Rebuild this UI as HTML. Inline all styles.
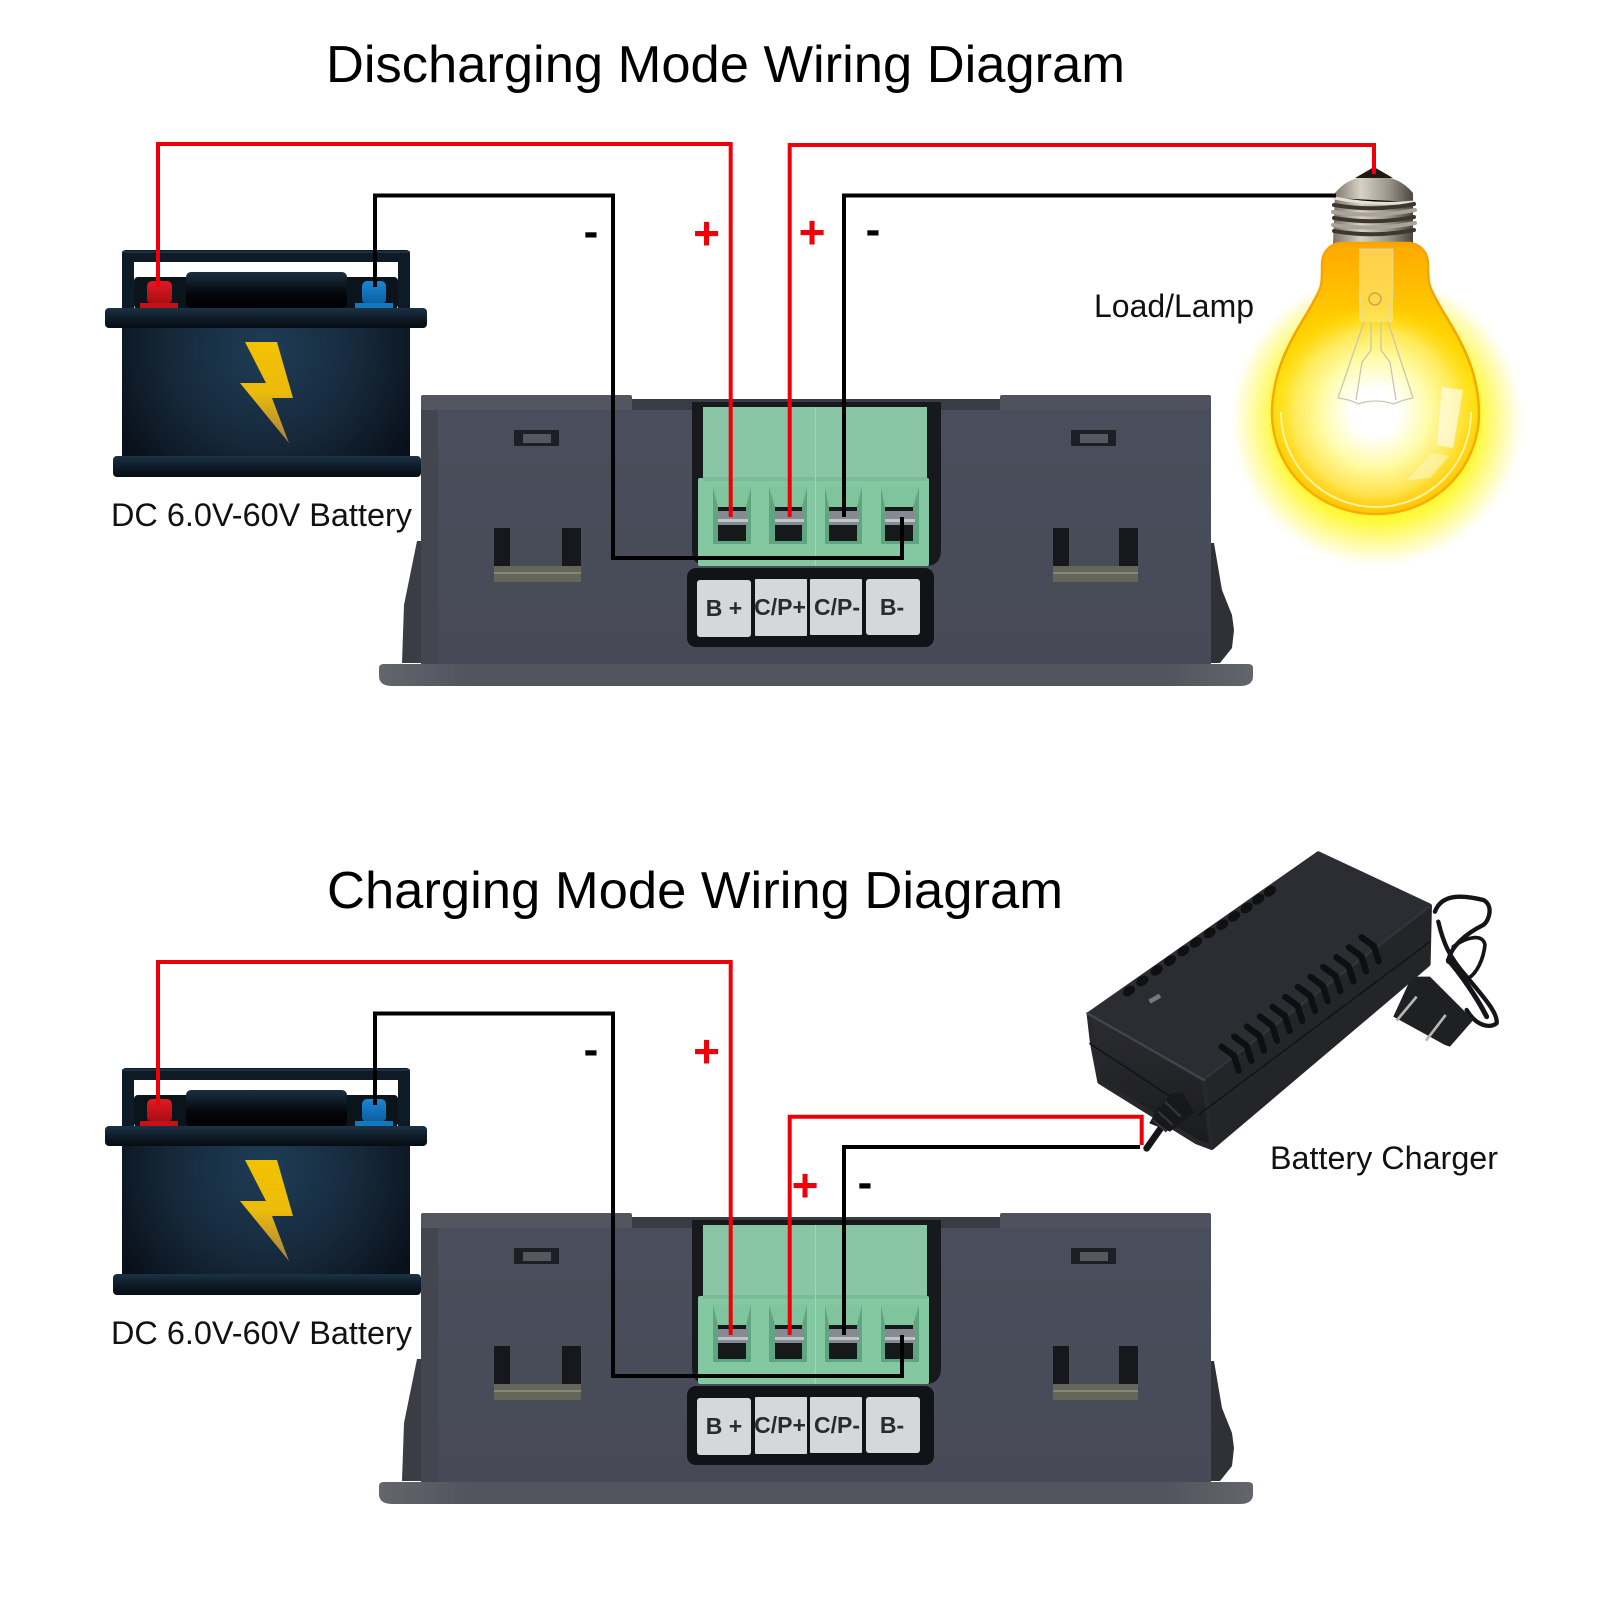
<!DOCTYPE html>
<html><head><meta charset="utf-8"><style>html,body{margin:0;padding:0;background:#fff}svg{display:block}text{font-family:"Liberation Sans",sans-serif}</style></head><body>
<svg width="1600" height="1600" viewBox="0 0 1600 1600" xmlns="http://www.w3.org/2000/svg">
<defs>
<radialGradient id="bb" gradientUnits="userSpaceOnUse" cx="266" cy="350" r="170"><stop offset="0" stop-color="#1e3d57"/><stop offset=".55" stop-color="#16293b"/><stop offset="1" stop-color="#091019"/></radialGradient>
<linearGradient id="lid" x1="0" x2="0" y1="0" y2="1"><stop offset="0" stop-color="#1b3244"/><stop offset=".5" stop-color="#0f1c28"/><stop offset="1" stop-color="#060c12"/></linearGradient>
<linearGradient id="blk" x1="0" x2="0" y1="0" y2="1"><stop offset="0" stop-color="#1a3040"/><stop offset=".6" stop-color="#04070b"/><stop offset="1" stop-color="#000"/></linearGradient>
<linearGradient id="bolt" x1="0" x2="0" y1="0" y2="1"><stop offset="0" stop-color="#f2c200"/><stop offset=".5" stop-color="#ecbb0c"/><stop offset="1" stop-color="#a58040"/></linearGradient>
<linearGradient id="red" x1="0" x2="0" y1="0" y2="1"><stop offset="0" stop-color="#e01a22"/><stop offset="1" stop-color="#a80c12"/></linearGradient>
<linearGradient id="blue" x1="0" x2="0" y1="0" y2="1"><stop offset="0" stop-color="#1a86d2"/><stop offset="1" stop-color="#0d5ea0"/></linearGradient>
<radialGradient id="glow" gradientUnits="userSpaceOnUse" cx="1377" cy="420" r="150"><stop offset="0" stop-color="#fff838"/><stop offset=".68" stop-color="#fff93c"/><stop offset=".8" stop-color="#fffb90"/><stop offset=".92" stop-color="#fffde0"/><stop offset="1" stop-color="#fff" stop-opacity="0"/></radialGradient>
<linearGradient id="glassB" gradientUnits="userSpaceOnUse" x1="0" x2="0" y1="243" y2="514"><stop offset="0" stop-color="#ffa800"/><stop offset=".3" stop-color="#ffcf00"/><stop offset=".55" stop-color="#ffe010"/><stop offset="1" stop-color="#ffc000"/></linearGradient>
<radialGradient id="glassW" gradientUnits="userSpaceOnUse" cx="1375" cy="412" r="108"><stop offset="0" stop-color="#fff"/><stop offset=".22" stop-color="#fff"/><stop offset=".5" stop-color="#fffca8"/><stop offset=".75" stop-color="#fff27a" stop-opacity=".7"/><stop offset="1" stop-color="#ffe000" stop-opacity="0"/></radialGradient>
<linearGradient id="screw" x1="0" x2="1" y1="0" y2="0"><stop offset="0" stop-color="#7a7268"/><stop offset=".35" stop-color="#d8d2c6"/><stop offset=".7" stop-color="#9a9388"/><stop offset="1" stop-color="#4a453e"/></linearGradient>
<linearGradient id="body" x1="0" x2="0" y1="0" y2="1"><stop offset="0" stop-color="#4a4e5c"/><stop offset="1" stop-color="#474a56"/></linearGradient>
<linearGradient id="fl" x1="0" x2="1" y1="0" y2="0"><stop offset="0" stop-color="#63666d"/><stop offset=".1" stop-color="#52555d"/><stop offset=".9" stop-color="#52555d"/><stop offset="1" stop-color="#62656b"/></linearGradient>
<linearGradient id="chF" x1="0" x2="0" y1="0" y2="1"><stop offset="0" stop-color="#2c2d32"/><stop offset="1" stop-color="#1a1b1e"/></linearGradient>
<g id="bat">
<rect x="134" y="277" width="264" height="32" rx="4" fill="#0b131b"/>
<path d="M122 310V254q0-4 4-4H406q4 0 4 4V310H398V262H134V310Z" fill="#0e1a26"/>
<path d="M122 252H410" stroke="#1f3a4e" stroke-width="1.5"/>
<rect x="186" y="272" width="161" height="36" rx="5" fill="url(#blk)"/>
<rect x="147" y="281" width="25" height="23" rx="5" fill="url(#red)"/><rect x="140" y="303" width="38" height="5" fill="#c4121a"/>
<rect x="362" y="281" width="24" height="23" rx="5" fill="url(#blue)"/><rect x="355" y="303" width="38" height="5" fill="#1478bf"/>
<rect x="122" y="326" width="288" height="132" fill="url(#bb)"/>
<rect x="105" y="308" width="322" height="20" rx="4" fill="url(#lid)"/>
<rect x="113" y="456" width="308" height="21" rx="4" fill="url(#lid)"/>
<path d="M245 342H277L293 398H272L289 443L240 383H266Z" fill="url(#bolt)"/>
</g>
<g id="dev">
<path d="M402 663L404 605L417 541H425V663Z" fill="#3b3d45"/>
<path d="M1207 663V543H1214L1222 590L1232 615L1234 630L1232 648L1220 663Z" fill="#2f3137"/>
<rect x="421" y="400" width="790" height="264" fill="url(#body)"/>
<rect x="421" y="395" width="211" height="15" rx="2" fill="#53565f"/>
<rect x="1000" y="395" width="211" height="15" rx="2" fill="#4f525c"/>
<rect x="632" y="399" width="368" height="11" fill="#3a3c45"/>
<rect x="421" y="410" width="17" height="254" fill="#43464f"/>
<rect x="514" y="430" width="45" height="16" rx="1" fill="#1e1f24"/><rect x="523" y="434" width="28" height="9" fill="#55585f"/>
<rect x="1071" y="430" width="45" height="16" rx="1" fill="#1e1f24"/><rect x="1080" y="434" width="28" height="9" fill="#55585f"/>
<rect x="494" y="528" width="16" height="40" fill="#17181c"/><rect x="562" y="528" width="19" height="40" fill="#17181c"/><rect x="494" y="566" width="87" height="16" fill="#65665a"/><rect x="494" y="572" width="87" height="2" fill="#85867a"/>
<rect x="1053" y="528" width="16" height="40" fill="#17181c"/><rect x="1119" y="528" width="19" height="40" fill="#17181c"/><rect x="1053" y="566" width="85" height="16" fill="#65665a"/><rect x="1053" y="572" width="85" height="2" fill="#85867a"/>
<path d="M692 402H941V550Q941 566 925 566H708Q692 566 692 550Z" fill="#18191d"/>
<rect x="703" y="407" width="224" height="72" fill="#8ac6a5"/>
<rect x="698" y="478" width="231" height="88" rx="2" fill="#84c8a1"/>
<rect x="703" y="477" width="224" height="4" fill="#7dbb98"/>
<rect x="815" y="407" width="1" height="159" fill="#a3d3b8"/>
<g fill="#5fa680"><rect x="713" y="487" width="38" height="57"/><rect x="769" y="487" width="38" height="57"/><rect x="825" y="487" width="37" height="57"/><rect x="881" y="487" width="38" height="57"/></g>
<g fill="#80c49d"><path d="M713 487H751L746 507H718Z"/><path d="M769 487H807L802 507H775Z"/><path d="M825 487H862L857 507H829Z"/><path d="M881 487H919L913 507H885Z"/></g>
<g fill="#16191a"><rect x="718" y="507" width="28" height="34"/><rect x="775" y="507" width="27" height="34"/><rect x="829" y="507" width="28" height="34"/><rect x="885" y="507" width="28" height="34"/></g>
<g fill="#868b91"><rect x="718" y="511" width="30" height="14"/><rect x="775" y="511" width="29" height="14"/><rect x="829" y="511" width="30" height="14"/><rect x="885" y="511" width="30" height="14"/></g>
<g fill="#bfc4c8"><rect x="718" y="519" width="30" height="3"/><rect x="775" y="519" width="29" height="3"/><rect x="829" y="519" width="30" height="3"/><rect x="885" y="519" width="30" height="3"/></g>
<rect x="687" y="568" width="247" height="79" rx="9" fill="#121316"/>
<g fill="#d5d7da"><rect x="697" y="580" width="54" height="57" rx="3"/><rect x="755" y="579" width="52" height="57" rx="1"/><rect x="810" y="579" width="52" height="56" rx="1"/><rect x="866" y="579" width="54" height="56" rx="3"/></g>
<path d="M379 668Q379 664 384 664H1248Q1253 664 1253 668V676Q1253 686 1240 686H392Q379 686 379 676Z" fill="url(#fl)"/>
</g>
<g id="w1"><path d="M158 287V144H730.7V517" fill="none" stroke="#ee0008" stroke-width="4"/><path d="M375 287V195.5H613V558H902V517" fill="none" stroke="#000" stroke-width="4"/></g>
<path id="slot" d="M515 650L552 677L566 722" fill="none" stroke="#0e0f11" stroke-width="19" stroke-linecap="round" stroke-linejoin="round"/>
</defs>
<rect width="1600" height="1600" fill="#fff"/>

<text x="326" y="82" font-size="52" textLength="799" lengthAdjust="spacingAndGlyphs" fill="#000">Discharging Mode Wiring Diagram</text>
<text x="327" y="908" font-size="52" textLength="736" lengthAdjust="spacingAndGlyphs" fill="#000">Charging Mode Wiring Diagram</text>

<!-- Bulb -->
<circle cx="1377" cy="420" r="150" fill="url(#glow)"/>
<path d="M1335 193Q1345 181 1358 178H1390Q1403 181 1413 193V244H1333Z" fill="url(#screw)"/>
<path d="M1355 178L1374 167L1393 178Z" fill="#1f1815"/>
<g stroke-linecap="round">
<path d="M1334 198Q1375 206 1414 202" stroke="#e6e0d6" stroke-width="3"/>
<g stroke="#3c372f" stroke-width="4" fill="none"><path d="M1334 205Q1375 212 1414 204"/><path d="M1334 218Q1375 225 1414 217"/><path d="M1334 231Q1375 238 1414 230"/></g>
<g stroke="#aaa498" stroke-width="4" fill="none"><path d="M1333 212Q1375 218 1415 210"/><path d="M1333 225Q1375 231 1415 223"/></g>
</g>
<path d="M1340 243C1328 245 1322 253 1322 265C1322 280 1322 286 1318 293C1306 320 1273 355 1272 412C1272 470 1318 514 1376 514C1433 514 1479 470 1479 412C1478 355 1445 320 1433 293C1429 286 1428 280 1428 265C1428 253 1422 245 1410 243Z" fill="url(#glassB)" stroke="#f6a500" stroke-width="2.5"/>
<circle cx="1375" cy="412" r="108" fill="url(#glassW)"/>
<path d="M1281 412C1281 466 1325 507 1376 507C1428 507 1471 466 1471 412" fill="none" stroke="#fff2a0" stroke-width="2"/>
<path d="M1359 249H1393V292L1388 322L1413 398M1359 292L1364 322L1338 398M1338 398Q1352 400 1358 404Q1375 398 1394 404Q1402 400 1413 398M1371 322V350L1362 362L1356 400M1381 322V350L1390 362L1396 400" fill="none" stroke="#c9c6b2" stroke-width="1.3"/>
<path d="M1359 249H1393V322H1359Z" fill="#ffeb8a" fill-opacity=".55"/>
<circle cx="1375" cy="299" r="6" fill="none" stroke="#cfa648" stroke-width="1.5"/>
<path d="M1442 387L1463 390L1453 448L1437 445Z" fill="#fff" fill-opacity=".6"/>
<path d="M1432 453L1449 456L1430 478L1407 480Z" fill="#fff6c0" fill-opacity=".6"/>

<!-- Diagram 1 -->
<use href="#bat"/>
<use href="#dev"/>
<use href="#w1"/>
<path d="M789.7 517V145H1374V174" fill="none" stroke="#ee0008" stroke-width="4"/>
<path d="M844 517V195.5H1336" fill="none" stroke="#000" stroke-width="4"/>

<!-- Diagram 2 -->
<use href="#bat" y="818"/>
<use href="#dev" y="818"/>

<!-- Charger -->
<g transform="translate(1050 830) scale(.3333)">
<g fill="none" stroke="#141518" stroke-linecap="round" stroke-linejoin="round">
<path d="M1155 245C1175 190 1240 195 1300 210C1330 225 1320 270 1300 285C1250 310 1200 350 1195 395" stroke-width="13"/>
<path d="M1165 275C1180 340 1200 385 1250 440C1300 500 1345 550 1340 580C1320 595 1280 590 1250 540" stroke-width="13"/>
<path d="M1210 350C1250 320 1300 310 1305 345C1300 390 1280 430 1255 445" stroke-width="11"/>
<path d="M1195 390C1230 430 1280 500 1310 560" stroke-width="15"/>
<path d="M290 955L350 870" stroke-width="20"/>
</g>
<path d="M1030 560L1085 440L1140 440L1270 570L1200 650L1185 645Z" fill="#1f2023"/>
<path d="M1040 572L1100 500" stroke="#b8b8b2" stroke-width="8"/><path d="M1128 632L1187 555" stroke="#b8b8b2" stroke-width="8"/>
<path d="M118 553L805 72L1138 228L1134 402L1025 495L485 952L440 935L150 755L128 640Z" fill="#242528" stroke="#242528" stroke-width="16" stroke-linejoin="round"/>
<path d="M118 553L462 750L485 952L440 935L150 755L128 640Z" fill="url(#chF)" stroke="#27282c" stroke-width="14" stroke-linejoin="round"/>
<path d="M118 553L805 72L1138 228L465 742Z" fill="#2c2d33" stroke="#2c2d33" stroke-width="14" stroke-linejoin="round"/>
<path d="M118 640L430 845M445 855L1140 335" stroke="#101113" stroke-width="4" fill="none"/>
<path d="M112 550L462 750" stroke="#44454b" stroke-width="7" fill="none" stroke-linecap="round"/>
<path d="M470 742L1140 228" stroke="#37383e" stroke-width="4" fill="none"/>
<g fill="#0f1012">
<ellipse cx="237" cy="483" rx="20" ry="14" transform="rotate(-35 237 483)"/><ellipse cx="277" cy="453" rx="20" ry="14" transform="rotate(-35 277 453)"/><ellipse cx="320" cy="421" rx="20" ry="14" transform="rotate(-35 320 421)"/><ellipse cx="360" cy="392" rx="20" ry="14" transform="rotate(-35 360 392)"/><ellipse cx="400" cy="363" rx="20" ry="14" transform="rotate(-35 400 363)"/><ellipse cx="438" cy="337" rx="20" ry="14" transform="rotate(-35 438 337)"/><ellipse cx="479" cy="309" rx="20" ry="14" transform="rotate(-35 479 309)"/><ellipse cx="517" cy="284" rx="20" ry="14" transform="rotate(-35 517 284)"/><ellipse cx="552" cy="259" rx="20" ry="14" transform="rotate(-35 552 259)"/><ellipse cx="590" cy="234" rx="20" ry="14" transform="rotate(-35 590 234)"/><ellipse cx="625" cy="208" rx="20" ry="14" transform="rotate(-35 625 208)"/><ellipse cx="660" cy="184" rx="20" ry="14" transform="rotate(-35 660 184)"/>
</g>
<use href="#slot"/><use href="#slot" x="38" y="-30"/><use href="#slot" x="76" y="-60"/><use href="#slot" x="115" y="-90"/><use href="#slot" x="153" y="-119"/><use href="#slot" x="191" y="-149"/><use href="#slot" x="229" y="-179"/><use href="#slot" x="267" y="-209"/><use href="#slot" x="305" y="-239"/><use href="#slot" x="344" y="-268"/><use href="#slot" x="382" y="-298"/><use href="#slot" x="420" y="-328"/>
<rect x="296" y="499" width="36" height="14" fill="#77787a" transform="rotate(-30 314 505)"/>
<path d="M365 790L400 790L432 850L360 905L298 880L320 840Z" fill="#17181a"/>
<path d="M345 815L392 860M325 845L368 885M308 870L350 905" stroke="#333438" stroke-width="7"/>
</g>
<path d="M789.7 1335V1116.7H1141.7V1145" fill="none" stroke="#ee0008" stroke-width="4"/>
<path d="M844 1335V1147H1140" fill="none" stroke="#000" stroke-width="4"/>
<use href="#w1" y="818"/>

<g font-size="32" fill="#111">
<text x="111" y="526" textLength="301" lengthAdjust="spacingAndGlyphs">DC 6.0V-60V Battery</text>
<text x="111" y="1344" textLength="301" lengthAdjust="spacingAndGlyphs">DC 6.0V-60V Battery</text>
<text x="1094" y="317" textLength="160" lengthAdjust="spacingAndGlyphs">Load/Lamp</text>
<text x="1270" y="1169" textLength="228" lengthAdjust="spacingAndGlyphs">Battery Charger</text>
</g>
<g font-weight="bold" font-size="23" fill="#2a2b2e" text-anchor="middle">
<text x="724" y="616">B +</text><text x="780" y="615">C/P+</text><text x="837" y="615">C/P-</text><text x="892" y="615">B-</text>
<text x="724" y="1434">B +</text><text x="780" y="1433">C/P+</text><text x="837" y="1433">C/P-</text><text x="892" y="1433">B-</text>
</g>
<g font-size="46" font-weight="bold" fill="#ee0008" text-anchor="middle">
<text x="706.5" y="249">+</text><text x="812" y="248">+</text><text x="706.5" y="1067">+</text><text x="805" y="1201">+</text>
</g>
<g font-size="44" font-weight="bold" fill="#000" text-anchor="middle">
<text x="591" y="246">-</text><text x="873" y="244">-</text><text x="591" y="1064">-</text><text x="865" y="1197">-</text>
</g>
</svg>
</body></html>
